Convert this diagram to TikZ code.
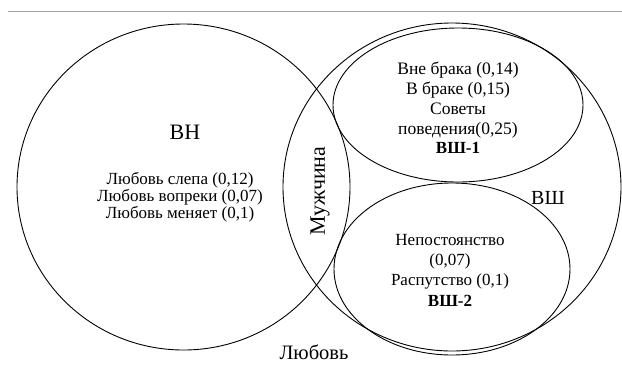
\documentclass[tikz,border=0pt]{standalone}
\usepackage{fontspec}
\setmainfont{Liberation Serif}
\usetikzlibrary{shapes.geometric}
\begin{document}
\begin{tikzpicture}[x=1pt,y=-1pt,
  set/.style={ellipse, draw=black, line width=0.9pt, inner sep=0pt},
  body/.style={align=center, inner sep=0pt},
  lbl/.style={inner sep=0pt}]
\useasboundingbox (0,0) rectangle (622,365);
\draw[gray!70, line width=1pt] (8,11) -- (622,11);
\node[set, minimum width=333pt, minimum height=326pt] (vn) at (183.5,187) {};
\node[set, minimum width=338pt, minimum height=328pt] (vsh) at (452,187) {};
\node[set, minimum width=250pt, minimum height=154pt] (vsh1) at (458,105) {};
\node[set, minimum width=236pt, minimum height=172pt] (vsh2) at (452,269) {};
\node[lbl, font=\fontsize{22}{24}\selectfont] (vnlabel) at (185,132) {ВН};
\node[body, font=\fontsize{17}{15.5}\selectfont] (vntext) at (180,197.5) {Любовь слепа (0,12)\\Любовь вопреки (0,07)\\Любовь меняет (0,1)};
\node[body, font=\fontsize{17.5}{20}\selectfont] (v1text) at (458,100) {Вне брака (0,14)\\В браке (0,15)\\Советы\\поведения(0,25)};
\node[lbl, font=\fontsize{17}{19}\selectfont\bfseries] (v1lab) at (458,147.5) {ВШ-1};
\node[body, font=\fontsize{17}{20}\selectfont] (v2text) at (450,262) {Непостоянство\\(0,07)\\Распутство (0,1)};
\node[lbl, font=\fontsize{17}{19}\selectfont\bfseries] (v2lab) at (450,300.5) {ВШ-2};
\node[lbl, font=\fontsize{20}{22}\selectfont] (vshlabel) at (548,198) {ВШ};
\node[lbl, font=\fontsize{22}{24}\selectfont, rotate=90] (man) at (320,191) {Мужчина};
\node[lbl, font=\fontsize{20.5}{22}\selectfont] (love) at (314,352) {Любовь};
\end{tikzpicture}
\end{document}
